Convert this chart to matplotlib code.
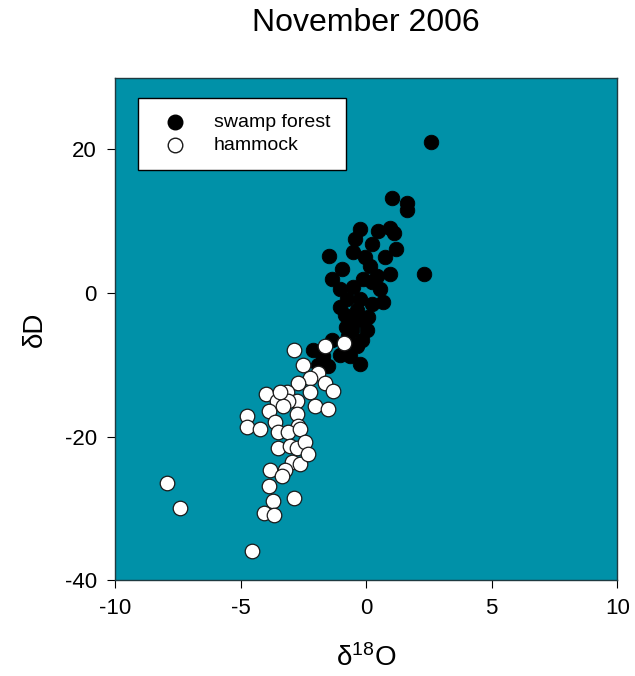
import matplotlib
matplotlib.use('Agg')
import matplotlib.pyplot as plt
import numpy as np

plt.rcParams['font.family'] = ['Liberation Sans', 'DejaVu Sans']
plt.rcParams['mathtext.default'] = 'regular'
plt.rcParams['axes.unicode_minus'] = False

# swamp forest (black) d18O, dD
swamp_x = [2.59, 1.04, 1.63, 1.63, -0.24, -0.44, 0.48, 0.96, 1.12, 0.24,
           1.20, -0.52, -1.47, -0.96, -1.35, 0.16, 0.96, 2.31, -0.12, -0.52,
           0.56, 0.68, -1.04, -0.36, -0.64, 0.04, -0.72, -0.36, -0.64, -0.24,
           -1.35, -2.11, -1.71, -1.51, -0.24, -0.76, 0.24, 0.08, -0.84, -0.16,
           -0.56, 0.44, 0.76, -0.04, -1.04, 0.24, -1.91, -1.04, -0.30, -0.80]
swamp_y = [21.0, 13.2, 12.5, 11.6, 8.9, 7.5, 8.6, 9.1, 8.4, 6.8,
           6.2, 5.7, 5.1, 3.4, 1.9, 3.7, 2.6, 2.7, 1.9, 0.8,
           0.5, -1.2, -1.9, -2.3, -4.1, -5.1, -6.0, -7.4, -8.8, -9.9,
           -6.5, -7.9, -8.8, -10.2, -0.9, -0.9, 1.5, -3.4, -3.0, -6.5,
           -5.1, 2.3, 5.0, 5.0, 0.5, -1.6, -10.0, -8.6, -3.8, -4.8]

# hammock (white)
hammock_x = [-2.87, -1.63, -0.88, -2.51, -1.91, -2.23, -1.63, -1.31, -2.71, -3.15,
             -2.75, -2.23, -2.03, -1.51, -3.98, -3.55, -3.11, -3.86, -4.74, -4.74,
             -4.22, -3.63, -3.51, -2.75, -2.71, -3.11, -2.63, -3.51, -3.03, -2.75,
             -2.43, -2.95, -3.23, -2.63, -3.82, -2.31, -3.35, -3.86, -3.71, -2.87,
             -4.06, -3.67, -4.54, -7.93, -7.41, -3.31, -3.43]
hammock_y = [-7.9, -7.4, -7.0, -10.1, -11.1, -11.8, -12.5, -13.6, -12.6, -13.8,
             -15.1, -13.8, -15.8, -16.2, -14.1, -15.1, -15.1, -16.5, -17.2, -18.7,
             -19.0, -18.0, -19.4, -16.9, -18.6, -19.4, -18.9, -21.6, -21.3, -21.6,
             -20.7, -23.6, -24.6, -23.8, -24.6, -22.5, -25.5, -26.9, -29.0, -28.6,
             -30.6, -31.0, -35.9, -26.5, -30.0, -15.8, -13.8]

xticks = [-10, -5, 0, 5, 10]
yticks = [-40, -20, 0, 20]

fig = plt.figure(figsize=(6.35, 6.76), dpi=100)
ax = fig.add_axes([0.181, 0.142, 0.791, 0.743])
ax.set_facecolor('#0091a8')

ax.scatter(swamp_x, swamp_y, s=110, c='black', edgecolors='black',
           linewidths=0.6, label='swamp forest', zorder=3)
ax.scatter(hammock_x, hammock_y, s=110, c='white', edgecolors='#1a1a1a',
           linewidths=0.9, label='hammock', zorder=4)

ax.set_xlim(-10, 10)
ax.set_ylim(-40, 30)
ax.set_xticks(xticks)
ax.set_yticks(yticks)
ax.tick_params(direction='out', length=6, labelsize=16, pad=7,
               top=False, right=False)
for sp in ax.spines.values():
    sp.set_color('#1f3a40')
    sp.set_linewidth(1.0)

ax.set_xlabel('δ$^{18}$O', fontsize=20, labelpad=18)
ax.set_ylabel('δD', fontsize=20, labelpad=12)
ax.set_title('November 2006', fontsize=23, pad=34)

leg = ax.legend(loc='upper left', bbox_to_anchor=(0.046, 0.96), fontsize=14,
                frameon=True, fancybox=False, framealpha=1, edgecolor='black',
                borderpad=0.8, borderaxespad=0, handletextpad=0.9,
                labelspacing=0.3, scatterpoints=1, markerscale=1.0,
                handlelength=2.2)
leg.get_frame().set_linewidth(1.0)
for h in leg.legend_handles:
    h.set_linewidths(1.0)

fig.savefig('out.png', dpi=100)
